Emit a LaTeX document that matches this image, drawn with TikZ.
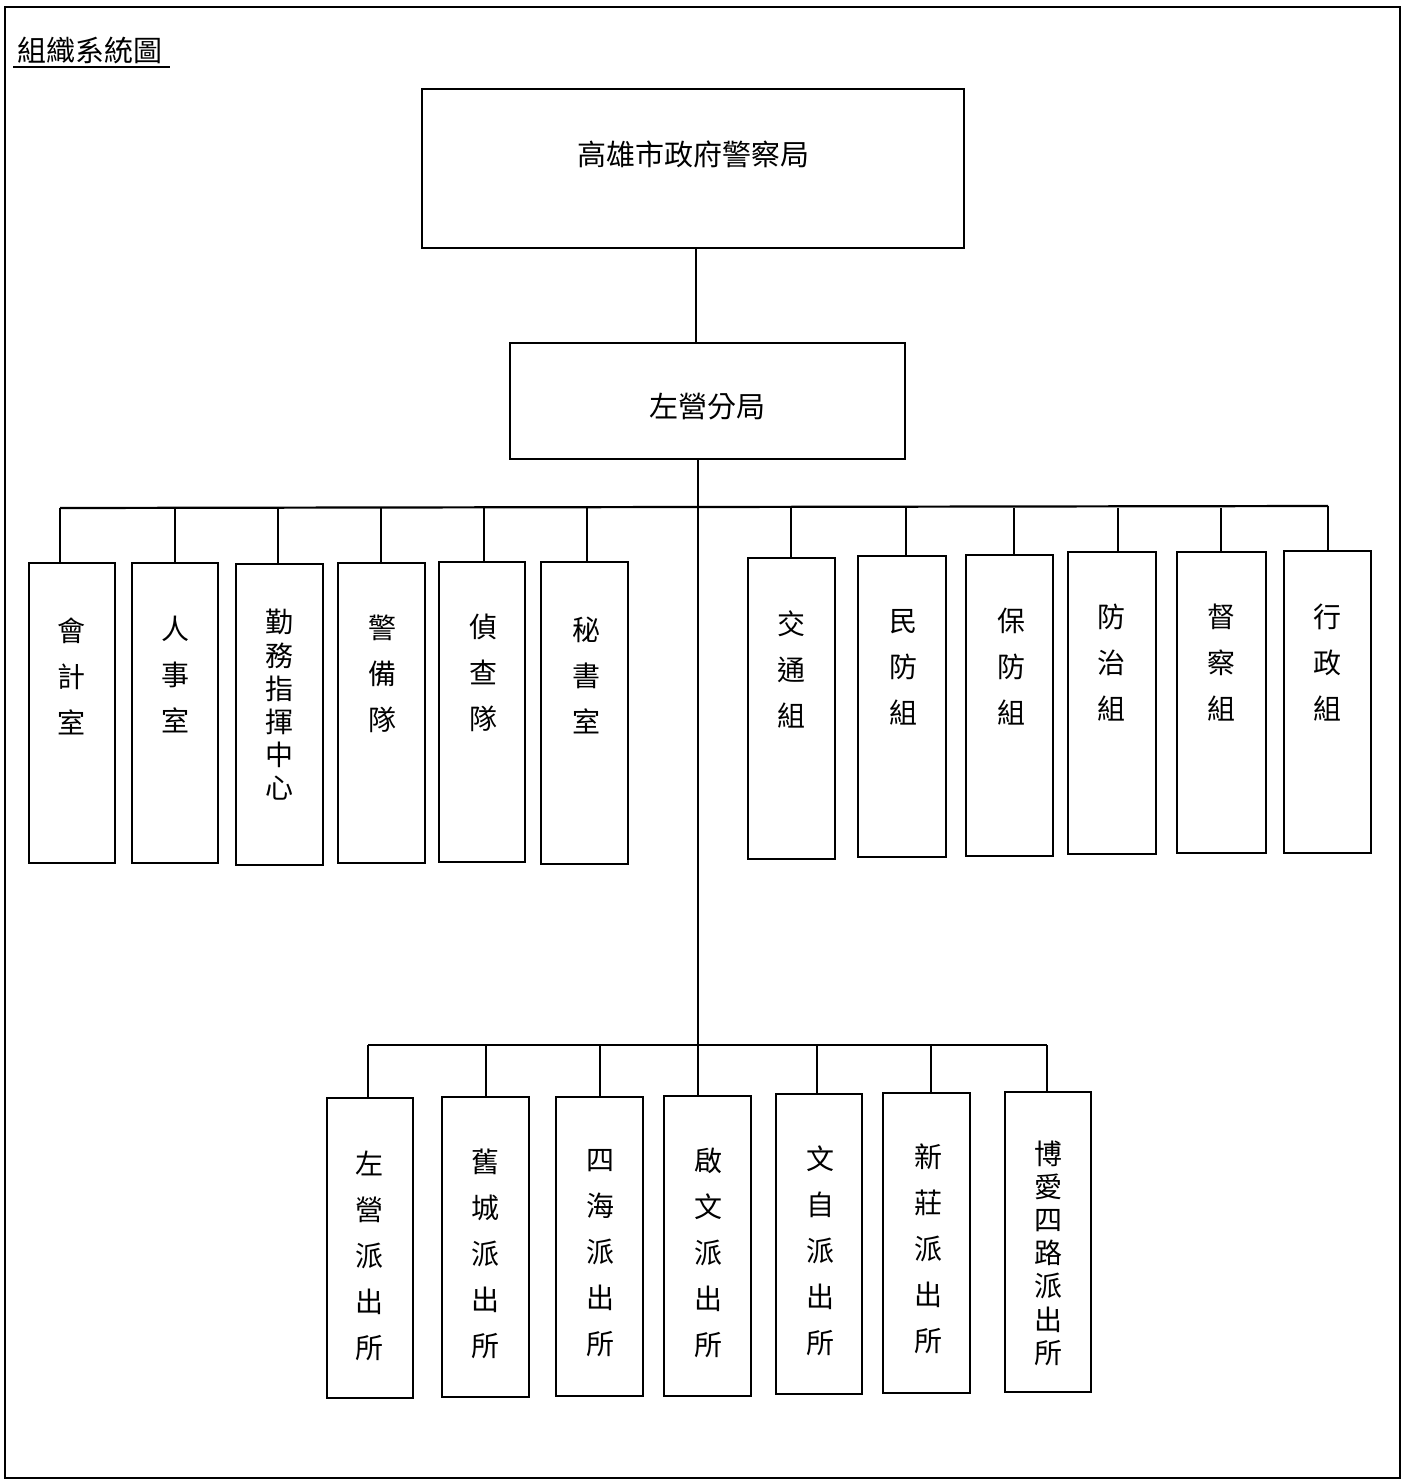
\documentclass[tikz,border=0pt]{standalone}
\usepackage{fontspec}
\newfontfamily\cjk{Noto Sans CJK TC}
\usetikzlibrary{fit}
\tikzset{
  x=0.5pt, y=-0.5pt,
  box/.style={draw, line width=1.3pt, inner sep=0pt, outer sep=0pt},
  conn/.style={line width=1.1pt},
  vt/.style={font=\cjk\fontsize{14}{23}\selectfont, align=center, inner sep=0pt},
  vtl/.style={font=\cjk\fontsize{14}{16.6}\selectfont, align=center, inner sep=0pt},
  ht/.style={font=\cjk\fontsize{14.5}{17}\selectfont, inner sep=0pt},
}
\newcommand\obox[5]{%
  \node[box, fit={(#2,#3) (#4,#5)}] (#1) {};
}
% stub from box top at given x up to the bus y
\newcommand\stub[3]{% box, x, bus
  \coordinate (tmpx) at (#2,0);
  \draw[conn] (#1.north -| tmpx) -- (tmpx |- #3);
}
\begin{document}
\begin{tikzpicture}
\useasboundingbox (0,0) rectangle (1418,1482);
% outer frame
\draw[line width=1pt] (5,7) rectangle (1400,1478);
% title
\node[ht, anchor=west] (title) at (17,50) {組織系統圖};
\draw[line width=1.2pt] (13,67) -- (170,67);

% top boxes
\obox{hq}{422}{89}{964}{248}
\node[ht] (hqt) at (693,154) {高雄市政府警察局};
\obox{br}{510}{343}{905}{459}
\node[ht] (brt) at (707,407) {左營分局};
\coordinate (topx) at (696,0);
\draw[conn] (hq.south -| topx) -- (br.north -| topx);

% buses
\coordinate (bL) at (60,508);
\coordinate (bR) at (1328,506);
\coordinate (trunkTop) at (698,459);
\coordinate (lbL) at (368,1045);
\coordinate (lbR) at (1047,1045);
\draw[conn] (bL) -- (bR);
\draw[conn] (lbL) -- (lbR);

% left group
\obox{a1}{29}{563}{115}{863}
\obox{a2}{132}{563}{218}{863}
\obox{a3}{236}{564}{323}{865}
\obox{a4}{338}{563}{425}{863}
\obox{a5}{439}{562}{525}{862}
\obox{a6}{541}{562}{628}{864}
\node[vt] (a1t) at (71,676) {會\\計\\室};
\node[vt] (a2t) at (175,675) {人\\事\\室};
\node[vtl] (a3t) at (279,705) {勤\\務\\指\\揮\\中\\心};
\node[vt] (a4t) at (382,674) {警\\備\\隊};
\node[vt] (a5t) at (483,673) {偵\\查\\隊};
\node[vt] (a6t) at (586,675) {秘\\書\\室};
\stub{a1}{60}{bL}
\stub{a2}{175}{bL}
\stub{a3}{278}{bL}
\stub{a4}{381}{bL}
\stub{a5}{484}{bL}
\stub{a6}{587}{bL}

% right group
\obox{b1}{748}{558}{835}{859}
\obox{b2}{858}{556}{946}{857}
\obox{b3}{966}{555}{1053}{856}
\obox{b4}{1068}{552}{1156}{854}
\obox{b5}{1177}{552}{1266}{853}
\obox{b6}{1284}{551}{1371}{853}
\node[vt] (b1t) at (791,669) {交\\通\\組};
\node[vt] (b2t) at (903,667) {民\\防\\組};
\node[vt] (b3t) at (1011,667) {保\\防\\組};
\node[vt] (b4t) at (1111,663) {防\\治\\組};
\node[vt] (b5t) at (1221,663) {督\\察\\組};
\node[vt] (b6t) at (1327,663) {行\\政\\組};
\stub{b1}{791}{bL}
\stub{b2}{906}{bL}
\stub{b3}{1014}{bL}
\stub{b4}{1118}{bL}
\stub{b5}{1221}{bL}
\stub{b6}{1328}{bR}

% lower group
\obox{c1}{327}{1098}{413}{1398}
\obox{c2}{442}{1097}{529}{1397}
\obox{c3}{556}{1097}{643}{1396}
\obox{c4}{664}{1096}{751}{1396}
\obox{c5}{776}{1094}{862}{1394}
\obox{c6}{883}{1093}{970}{1393}
\obox{c7}{1005}{1092}{1091}{1392}
\node[vt] (c1t) at (369,1256) {左\\營\\派\\出\\所};
\node[vt] (c2t) at (485,1254) {舊\\城\\派\\出\\所};
\node[vt] (c3t) at (600,1253) {四\\海\\派\\出\\所};
\node[vt] (c4t) at (708,1253) {啟\\文\\派\\出\\所};
\node[vt] (c5t) at (820,1251) {文\\自\\派\\出\\所};
\node[vt] (c6t) at (928,1249) {新\\莊\\派\\出\\所};
\node[vtl] (c7t) at (1048,1253) {博\\愛\\四\\路\\派\\出\\所};
\stub{c1}{368}{lbL}
\stub{c2}{486}{lbL}
\stub{c3}{600}{lbL}
\stub{c5}{817}{lbL}
\stub{c6}{931}{lbL}
\stub{c7}{1047}{lbL}

% trunk
\draw[conn] (br.south -| trunkTop) -- (c4.north -| trunkTop);
\end{tikzpicture}
\end{document}
